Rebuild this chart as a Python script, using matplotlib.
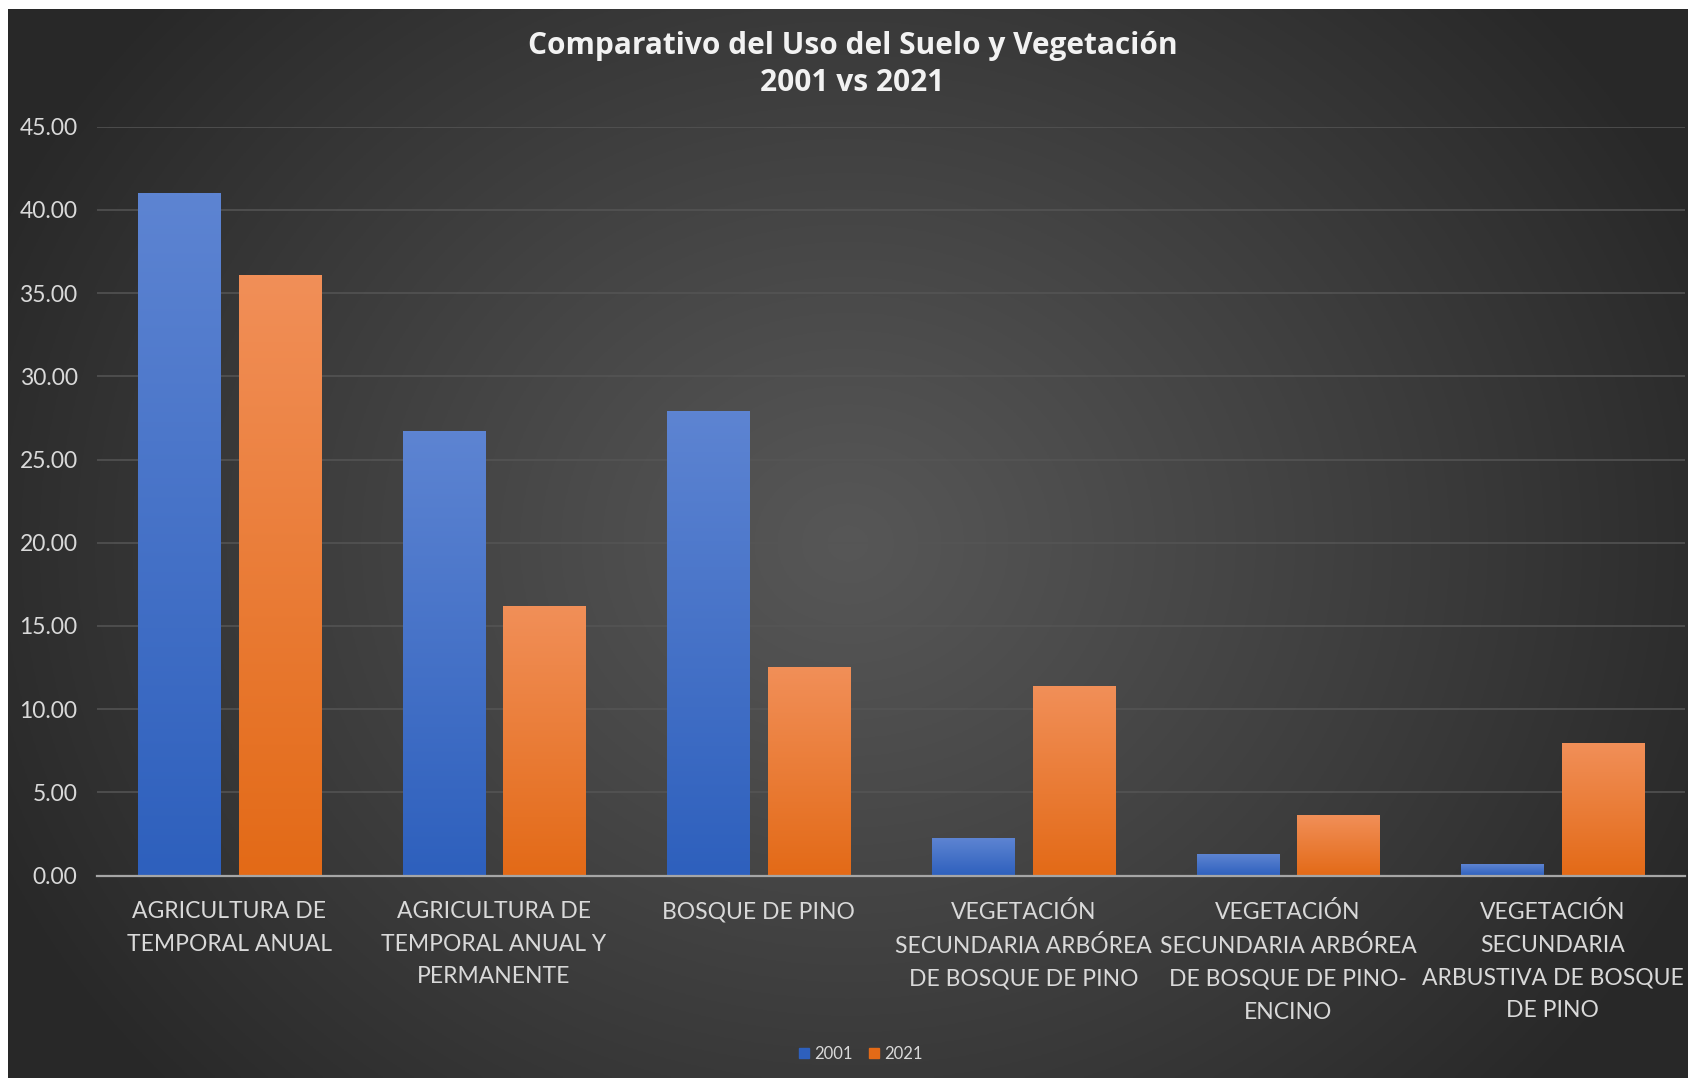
import numpy as np
import matplotlib.pyplot as plt
from matplotlib.patches import Patch

categorias = ["AGRICULTURA DE\nTEMPORAL ANUAL",
              "AGRICULTURA DE\nTEMPORAL ANUAL Y\nPERMANENTE",
              "BOSQUE DE PINO",
              "VEGETACIÓN\nSECUNDARIA ARBÓREA\nDE BOSQUE DE PINO",
              "VEGETACIÓN\nSECUNDARIA ARBÓREA\nDE BOSQUE DE PINO-\nENCINO",
              "VEGETACIÓN\nSECUNDARIA\nARBUSTIVA DE BOSQUE\nDE PINO"]
valores_2001 = [41.00, 26.70, 27.90, 2.25, 1.30, 0.68]
valores_2021 = [36.10, 16.20, 12.55, 11.40, 3.65, 7.95]
series = ["2001", "2021"]
yticks = np.arange(0, 46, 5)

# colores (arriba, abajo) del degradado de cada serie
col_2001 = ("#5d84d2", "#2e60bd")
col_2021 = ("#f18f58", "#e36a17")
texto = "#d9d9d9"

W, H = 1688, 1078
fig = plt.figure(figsize=(W / 100, H / 100), dpi=100)
fig.set_facecolor("white")

# fondo con degradado radial
bg = fig.add_axes([8 / W, 0, 1 - 8 / W, 1 - 9 / H])
yy, xx = np.mgrid[0:1:400j, 0:1:600j]
r = np.sqrt(((xx - 0.5) / 0.55) ** 2 + ((yy - 0.5) / 0.75) ** 2)
r = np.clip(r, 0, 1)
gris = 0.34 - (0.34 - 0.16) * r ** 1.1
bg.imshow(np.dstack([gris, gris, gris]), aspect="auto", extent=[0, 1, 0, 1])
bg.set_axis_off()

ax = fig.add_axes([97 / W, 1 - 875.5 / H, 1 - 97 / W - 3 / W, (875.5 - 126.7) / H])
ax.patch.set_alpha(0)

x = np.arange(len(categorias))
ancho = 0.31
off = 0.19


def barras_degradado(pos, vals, cols):
    bars = ax.bar(pos, vals, ancho, color=cols[1], zorder=2)
    top = np.array(plt.matplotlib.colors.to_rgb(cols[0]))
    bot = np.array(plt.matplotlib.colors.to_rgb(cols[1]))
    t = np.linspace(0, 1, 100)[:, None]
    grad = top * (1 - t) + bot * t
    for b in bars:
        x0 = b.get_x()
        h = b.get_height()
        ax.imshow(grad[:, None, :], extent=[x0, x0 + b.get_width(), 0, h],
                  aspect="auto", zorder=3, interpolation="bilinear")
    return bars


barras_degradado(x - off, valores_2001, col_2001)
barras_degradado(x + off, valores_2021, col_2021)

ax.set_xlim(-0.5, len(categorias) - 0.5)
ax.set_ylim(0, 45)
ax.set_yticks(yticks)
ax.set_yticklabels([f"{v:.2f}" for v in yticks])
ax.set_xticks(x)
ax.set_xticklabels(categorias, linespacing=1.68)
ax.grid(axis="y", color="#555555", lw=1.1, zorder=0)
ax.set_axisbelow(True)
for s in ["top", "right", "left"]:
    ax.spines[s].set_visible(False)
ax.spines["bottom"].set_color("#a6a6a6")
ax.spines["bottom"].set_linewidth(1.6)
ax.spines["bottom"].set_zorder(4)
ax.tick_params(axis="both", length=0, colors=texto, labelsize=16.5)
ax.tick_params(axis="x", pad=18.5)
ax.tick_params(axis="y", pad=14)
for lab in ax.get_xticklabels() + ax.get_yticklabels():
    lab.set_fontfamily("Lato")

fig.text(0.505, 1 - 31 / H, "Comparativo del Uso del Suelo y Vegetación\n2001 vs 2021",
         ha="center", va="top", color="#f2f2f2", fontsize=21.5, fontweight="bold",
         family="Open Sans", linespacing=1.3)

handles = [Patch(color=col_2001[1]), Patch(color=col_2021[1])]
fig.legend(handles, series, loc="center", bbox_to_anchor=(0.51, 1 - 1054 / H),
           ncol=2, frameon=False, handlelength=0.6, handleheight=0.6,
           handletextpad=0.3, columnspacing=1.0, labelcolor=texto,
           prop={"family": "Lato", "size": 12})

fig.savefig("out.png", dpi=100, facecolor=fig.get_facecolor())
